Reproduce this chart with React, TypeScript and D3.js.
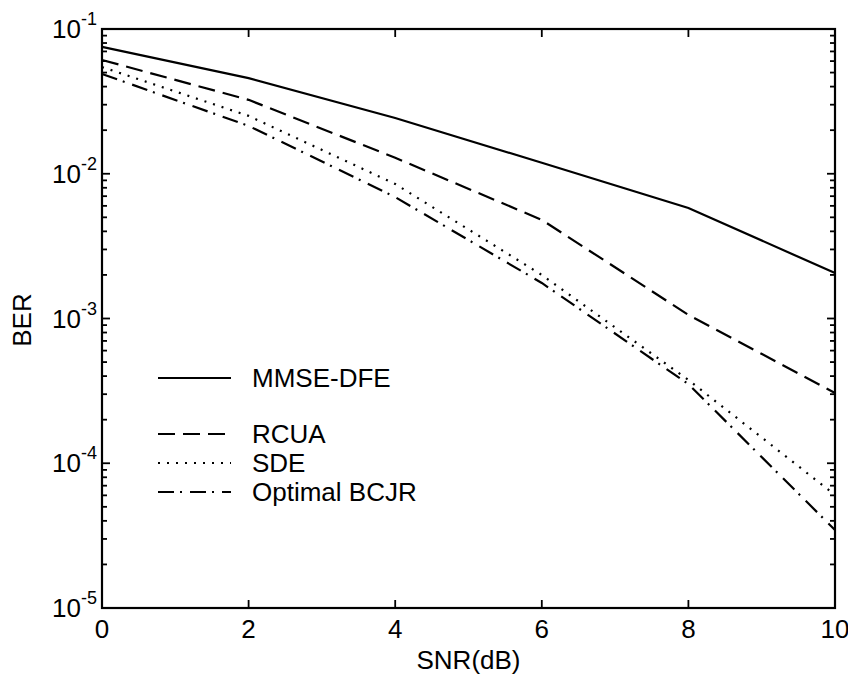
import React from "react";
import * as d3 from "d3";

const snr = [0, 2, 4, 6, 8, 10];
const mmseDfe = [0.0752, 0.0458, 0.0243, 0.0119, 0.0058, 0.00206];
const rcua = [0.0611, 0.0324, 0.0129, 0.0048, 0.00106, 0.000306];
const sde = [0.0546, 0.0251, 0.0085, 0.002, 0.000376, 0.0000604];
const bcjr = [0.0489, 0.0214, 0.0069, 0.00176, 0.000352, 0.0000346];

const xTicks = [0, 2, 4, 6, 8, 10];
const yExponents = [-1, -2, -3, -4, -5];
const legendLabels = ["MMSE-DFE", "RCUA", "SDE", "Optimal BCJR"];

const W = 848;
const H = 678;
const L = 102, R = 835, T = 29, B = 608;
const FONT = "'Liberation Sans', Arial, sans-serif";

export default function App() {
  const x = d3.scaleLinear().domain([0, 10]).range([L, R]);
  const y = d3.scaleLog().domain([1e-5, 1e-1]).range([B, T]);
  const line = d3
    .line<number>()
    .x((_, i) => x(snr[i]))
    .y((d) => y(d));

  const series = [
    { data: mmseDfe, dash: "none", cap: "butt" },
    { data: rcua, dash: "17,8", cap: "butt" },
    { data: sde, dash: "2,7", cap: "butt" },
    { data: bcjr, dash: "16,6,2,8", cap: "butt" },
  ];

  const minor: number[] = [];
  for (let e = -5; e < -1; e++) {
    for (let k = 2; k <= 9; k++) minor.push(k * Math.pow(10, e));
  }

  const legendY = [378, 434, 463, 492];

  return (
    <svg
      width={W}
      height={H}
      style={{ position: "absolute", left: 0, top: 0, background: "#fff" }}
      fontFamily={FONT}
    >
      <rect x={0} y={0} width={W} height={H} fill="#fff" />
      {/* series */}
      {series.map((s, i) => (
        <path
          key={i}
          d={line(s.data) || ""}
          fill="none"
          stroke="#000"
          strokeWidth={2.2}
          strokeDasharray={s.dash}
        />
      ))}
      {/* ticks x */}
      {xTicks.map((t) => (
        <g key={"xt" + t}>
          <line x1={x(t)} x2={x(t)} y1={B} y2={B - 8} stroke="#000" strokeWidth={1.8} />
          <line x1={x(t)} x2={x(t)} y1={T} y2={T + 8} stroke="#000" strokeWidth={1.8} />
          <text
            x={x(t)}
            y={B + 30}
            textAnchor="middle"
            fontSize={26}
            fill="#000"
          >
            {t}
          </text>
        </g>
      ))}
      {/* ticks y major */}
      {yExponents.map((e) => {
        const yy = y(Math.pow(10, e));
        return (
          <g key={"ye" + e}>
            <line x1={L} x2={L + 8} y1={yy} y2={yy} stroke="#000" strokeWidth={1.8} />
            <line x1={R} x2={R - 8} y1={yy} y2={yy} stroke="#000" strokeWidth={1.8} />
            <text x={L - 5} y={yy + 9} textAnchor="end" fontSize={26} fill="#000">
              10
              <tspan dy={-13} fontSize={18}>
                {String(e)}
              </tspan>
            </text>
          </g>
        );
      })}
      {/* ticks y minor */}
      {minor.map((v, i) => {
        const yy = y(v);
        return (
          <g key={"ym" + i}>
            <line x1={L} x2={L + 5} y1={yy} y2={yy} stroke="#000" strokeWidth={1.8} />
            <line x1={R} x2={R - 5} y1={yy} y2={yy} stroke="#000" strokeWidth={1.8} />
          </g>
        );
      })}
      {/* box */}
      <rect
        x={L}
        y={T}
        width={R - L}
        height={B - T}
        fill="none"
        stroke="#000"
        strokeWidth={2.2}
      />
      {/* axis labels */}
      <text x={(L + R) / 2} y={669} textAnchor="middle" fontSize={26} fill="#000">
        SNR(dB)
      </text>
      <text
        transform={`translate(31,${320}) rotate(-90)`}
        textAnchor="middle"
        fontSize={26}
        fill="#000"
      >
        BER
      </text>
      {/* legend */}
      {legendLabels.map((lab, i) => (
        <g key={"lg" + i}>
          <line
            x1={158}
            x2={231}
            y1={legendY[i]}
            y2={legendY[i]}
            stroke="#000"
            strokeWidth={2.2}
            strokeDasharray={series[i].dash}
          />
          <text x={252} y={legendY[i] + 9} fontSize={26} fill="#000">
            {lab}
          </text>
        </g>
      ))}
    </svg>
  );
}
